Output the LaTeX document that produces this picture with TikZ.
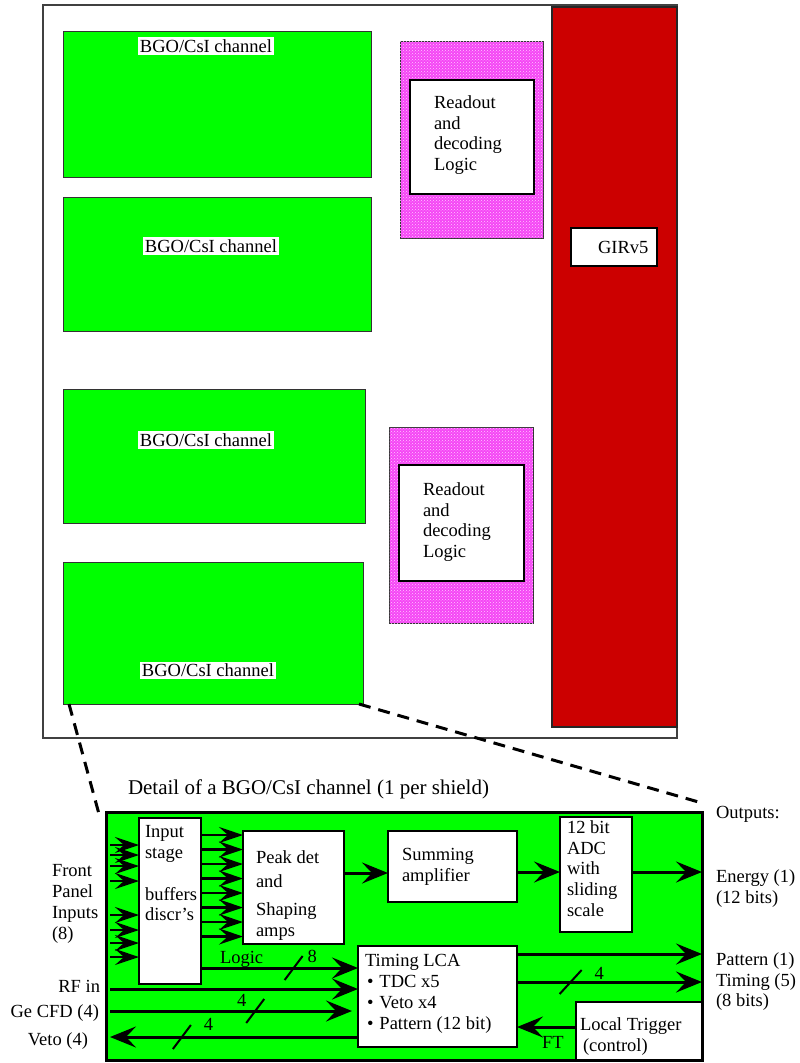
\documentclass[tikz,border=0pt]{standalone}
\usepackage{fontspec}
\setmainfont{Liberation Serif}
\usetikzlibrary{arrows.meta,patterns}
\definecolor{chgreen}{RGB}{0,255,0}
\definecolor{girred}{RGB}{204,0,0}
\definecolor{rdpink}{RGB}{245,70,245}
\definecolor{rddot}{RGB}{255,200,255}

\begin{document}
\begin{tikzpicture}[x=1pt,y=-1pt,
  every node/.style={inner sep=0pt,outer sep=0pt},
  box/.style={draw=black,line width=1.2pt,fill=white,anchor=north west},
  chan/.style={draw=black!80,line width=1pt,fill=chgreen,anchor=north west},
  rdout/.style={draw=black!80,line width=1pt,fill=rdpink,anchor=north west,
    postaction={pattern=crosshatch dots,pattern color=rddot}},
  txt/.style={font=\fontsize{18.5}{20.8}\selectfont,align=left,anchor=north west},
  lbl/.style={font=\fontsize{18.5}{20.8}\selectfont},
  chlbl/.style={lbl,fill=white,inner xsep=2pt,inner ysep=2pt},
  sig/.style={line width=3pt,-{Stealth[length=26pt,width=21pt,inset=10pt]}},
  insig/.style={line width=2.2pt,-{Stealth[length=24pt,width=16pt,inset=9pt]}},
  bus/.style={line width=2pt},
  zoomln/.style={line width=3pt,dash pattern=on 12pt off 8pt}]
\useasboundingbox (0,0) rectangle (800,1063);

% crate overview
\node[draw=black!75,line width=1.5pt,minimum width=634pt,minimum height=733pt,anchor=north west] (crate) at (43,5) {};
\node[chan,minimum width=308pt,minimum height=146pt] (ch1) at (63,31) {};
\node[chan,minimum width=308pt,minimum height=134pt] (ch2) at (63,197) {};
\node[chan,minimum width=302pt,minimum height=134pt] (ch3) at (63,389) {};
\node[chan,minimum width=300pt,minimum height=142pt] (ch4) at (63,562) {};
\node[chlbl] at (206,46) {BGO/CsI channel};
\node[chlbl] at (211,246) {BGO/CsI channel};
\node[chlbl] at (206,440) {BGO/CsI channel};
\node[chlbl] at (208,670) {BGO/CsI channel};

\node[rdout,minimum width=143pt,minimum height=197pt] (rd1) at (400,41) {};
\node[box,minimum width=124pt,minimum height=114pt] (rd1in) at (410,80) {};
\node[txt] at ([shift={(24,15.5)}]rd1in.north west) {Readout\\and\\decoding\\Logic};
\node[rdout,minimum width=144pt,minimum height=196pt] (rd2) at (389,427) {};
\node[box,minimum width=125pt,minimum height=116pt] (rd2in) at (399,465) {};
\node[txt] at ([shift={(24,17.5)}]rd2in.north west) {Readout\\and\\decoding\\Logic};

\node[draw=black!85,line width=1.5pt,fill=girred,minimum width=125pt,minimum height=720pt,anchor=north west] (gir) at (552,7) {};
\node[box,minimum width=86pt,minimum height=38pt] (girbox) at (571,228) {};
\node[lbl,anchor=base west] at ([shift={(27,25)}]girbox.north west) {GIRv5};

% zoom lines
\draw[zoomln] ([xshift=6pt]ch4.south west) -- (99,814);
\draw[zoomln] ([xshift=-4pt]ch4.south east) -- (702,803);

\node[font=\fontsize{21}{24}\selectfont,anchor=base west] (title) at (128,794) {Detail of a BGO/CsI channel (1 per shield)};

% channel detail
\node[draw=black,line width=3pt,fill=chgreen,minimum width=596pt,minimum height=248pt,anchor=north west] (det) at (106,812) {};
\coordinate (detin) at ([xshift=4pt]det.west);
\node[box,minimum width=62pt,minimum height=166pt] (inp) at (139,818) {};
\node[box,minimum width=101pt,minimum height=113pt] (peak) at (243,831) {};
\node[box,minimum width=129pt,minimum height=71pt] (sum) at (388,831) {};
\node[box,minimum width=72pt,minimum height=115pt] (adc) at (560,817) {};
\node[box,minimum width=159pt,minimum height=101pt] (lca) at (358,946) {};
\node[box,minimum width=126pt,minimum height=58pt] (trig) at (576,1002) {};
\coordinate (lcain) at ([xshift=-6pt]lca.west);

\node[txt] at ([shift={(6,7.5)}]inp.north west) {Input\\stage\\[20.8pt]buffers\\discr's};
\node[txt] at ([shift={(13,19.5)}]peak.north west) {Peak det\\[3.2pt]and\\[7.2pt]Shaping\\amps};
\node[txt] at ([shift={(14,17)}]sum.north west) {Summing\\amplifier};
\node[txt] at ([shift={(7,3.5)}]adc.north west) {12 bit\\ADC\\with\\sliding\\scale};
\node[txt] at ([shift={(7,8.5)}]lca.north west) {Timing LCA\\\hspace{2pt}•\hspace{6pt}TDC x5\\\hspace{2pt}•\hspace{6pt}Veto x4\\\hspace{2pt}•\hspace{6pt}Pattern (12 bit)};
\node[txt] at ([shift={(4,15.5)}]trig.north west) {Local Trigger\\\hspace{3pt}(control)};

\foreach \y in {845,855,866,881,915,930,943,957}
  \draw[insig] (detin |- 0,\y) -- (inp.west |- 0,\y);
\foreach \y in {835,849.5,...,937}
  \draw[insig] (inp.east |- 0,\y) -- (peak.west |- 0,\y);

\draw[sig] (peak.east |- 0,873) -- (sum.west |- 0,873);
\draw[sig] (sum.east |- 0,872) -- (adc.west |- 0,872);
\draw[sig] (adc.east |- 0,872) -- (det.east |- 0,872);
\draw[sig] (inp.east |- 0,968) -- coordinate[pos=0.59] (lgbus) (lca.west |- 0,968);
\draw[sig] (detin |- 0,989) -- (lca.west |- 0,989);
\draw[sig] (detin |- 0,1011) -- coordinate[pos=0.6] (gebus) (lcain |- 0,1011);
\draw[sig] (lca.west |- 0,1037) -- coordinate[pos=0.71] (vetobus) (detin |- 0,1037);
\draw[sig] (lca.east |- 0,954) -- (det.east |- 0,954);
\draw[sig] (lca.east |- 0,982) -- coordinate[pos=0.29] (tmbus) (det.east |- 0,982);
\draw[sig] (trig.west |- 0,1027) -- (lca.east |- 0,1027);

% bus widths
\draw[bus] ([shift={(-9,12)}]lgbus) -- ([shift={(9,-12)}]lgbus);
\draw[bus] ([shift={(-9,12)}]gebus) -- ([shift={(9,-12)}]gebus);
\draw[bus] ([shift={(-9,12)}]vetobus) -- ([shift={(9,-12)}]vetobus);
\draw[bus] ([shift={(-11,12)}]tmbus) -- ([shift={(11,-12)}]tmbus);
\node[lbl,anchor=base west] at ([shift={(14,-6)}]lgbus) {8};
\node[lbl,anchor=base west] at ([shift={(-18,-5)}]gebus) {4};
\node[lbl,anchor=base west] at ([shift={(22,-7)}]vetobus) {4};
\node[lbl,anchor=base west] at ([shift={(24,-3)}]tmbus) {4};
\node[lbl,anchor=base west] at (220,963) {Logic};
\node[lbl,anchor=base west] at (542,1048) {FT};

% signal labels
\node[txt] (fpin) at (52,864.5) {Front\\Panel\\Inputs\\(8)};
\node[lbl,anchor=base east] at (100,992) {RF in};
\node[lbl,anchor=base east] at (99,1017) {Ge CFD (4)};
\node[lbl,anchor=base east] at (88,1045) {Veto (4)};
\node[lbl,anchor=base west] at (716,818) {Outputs:};
\node[txt] at (716,869.5) {Energy (1)\\(12 bits)};
\node[txt] at (716,952.5) {Pattern (1)\\Timing (5)\\(8 bits)};
\end{tikzpicture}
\end{document}
